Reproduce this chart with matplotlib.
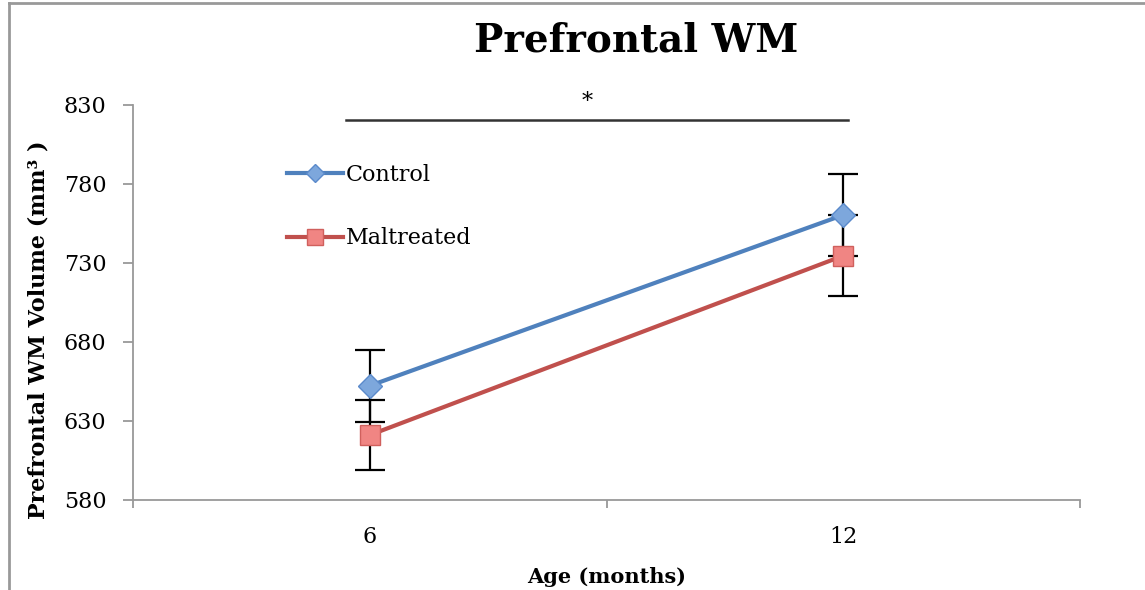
import matplotlib
matplotlib.use("Agg")
import matplotlib.pyplot as plt
from matplotlib.lines import Line2D

# Data
ages = ["6", "12"]
control = [652.3, 760.4]
control_err = [22.7, 26.0]
maltreated = [621.1, 734.6]
maltreated_err = [22.0, 25.5]
yticks = [580, 630, 680, 730, 780, 830]

plt.rcParams['font.family'] = ['DejaVu Serif']

fig = plt.figure(figsize=(11.45, 5.9), dpi=100)
ax = fig.add_axes([133 / 1145, 1 - 500 / 590, (1080 - 133) / 1145, (500 - 105) / 590])

x = list(range(len(ages)))
gray = '#999999'

# error bars first, markers on top
ax.errorbar(x, control, yerr=control_err, fmt='none', ecolor='black',
            elinewidth=1.6, capsize=11, capthick=1.6, zorder=2)
ax.errorbar(x, maltreated, yerr=maltreated_err, fmt='none', ecolor='black',
            elinewidth=1.6, capsize=11, capthick=1.6, zorder=2)

ax.plot(x, control, color='#4F81BD', lw=3, marker='D', ms=12,
        mfc='#7DA7DC', mec='#5A8ACB', mew=1, label='Control', zorder=3)
ax.plot(x, maltreated, color='#C0504D', lw=3, marker='s', ms=14,
        mfc='#F08583', mec='#D0605D', mew=1, label='Maltreated', zorder=3)

ax.set_xlim(-0.5, 1.5)
ax.set_ylim(580, 830)
ax.set_yticks(yticks)
ax.set_xticks(x)
ax.set_xticklabels(ages)
ax.set_xticks([-0.5, 0.5, 1.5], minor=True)

for s in ['top', 'right']:
    ax.spines[s].set_visible(False)
for s in ['left', 'bottom']:
    ax.spines[s].set_color(gray)
    ax.spines[s].set_linewidth(1.3)

ax.tick_params(axis='y', direction='out', length=7, width=1.3, color=gray,
               labelsize=16, pad=12)
ax.tick_params(axis='x', which='major', length=0, labelsize=16, pad=19)
ax.tick_params(axis='x', which='minor', direction='out', length=6, width=1.3,
               color=gray)

ax.set_xlabel('Age (months)', fontsize=15, fontweight='bold')
ax.xaxis.set_label_coords(0.5, -(577 - 500) / 395)
ax.xaxis.label.set_va('center')
ax.set_ylabel('Prefrontal WM Volume (mm³ )', fontsize=16, fontweight='bold')
ax.yaxis.set_label_coords(-(133 - 50) / 947, 1 - (330 - 105) / 395)

fig.text(0.556, 1 - 40 / 590, 'Prefrontal WM', ha='center', va='center',
         fontsize=28, fontweight='bold')

# significance bar
ax.plot([-0.05, 1.01], [820.5, 820.5], color='#333333', lw=1.8,
        clip_on=False, zorder=4)
ax.text(0.46, 832, '*', ha='center', va='center', fontsize=16, clip_on=False)

leg = ax.legend(loc='upper left', bbox_to_anchor=(0.163, 0.85), frameon=False,
                fontsize=16, handlelength=2.5, handletextpad=0.15,
                labelspacing=1.85, borderaxespad=0, borderpad=0,
                markerscale=0.8)

# outer border of the chart box
fig.add_artist(Line2D([9 / 1145, 9 / 1145], [0, 1 - 3 / 590], color=gray, lw=2,
                      transform=fig.transFigure))
fig.add_artist(Line2D([9 / 1145, 1], [1 - 3 / 590, 1 - 3 / 590], color=gray, lw=2,
                      transform=fig.transFigure))

fig.savefig('out.png', dpi=100)
